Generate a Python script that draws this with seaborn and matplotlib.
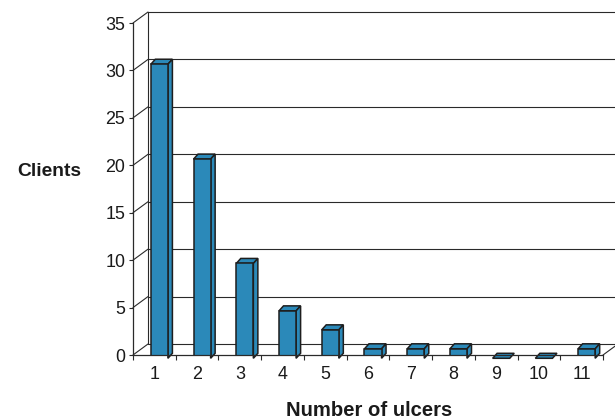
import matplotlib
matplotlib.use("Agg")
import matplotlib.pyplot as plt
import matplotlib.transforms as mtransforms
from matplotlib.patches import Polygon
from matplotlib.lines import Line2D
import seaborn as sns
import pandas as pd

# Data
ulcers = ["1", "2", "3", "4", "5", "6", "7", "8", "9", "10", "11"]
clients = [31, 21, 10, 5, 3, 1, 1, 1, 0, 0, 1]
y_ticks = [0, 5, 10, 15, 20, 25, 30, 35]

BAR = "#2b89b9"
EDGE = "#1e1e1e"
LINE = "#2a2a2a"

sns.set_theme(style="white")
plt.rcParams["font.family"] = ["Liberation Sans", "DejaVu Sans"]

W, H = 615, 420
fig = plt.figure(figsize=(W / 100, H / 100), dpi=100)
ax = fig.add_axes([133 / W, 65 / H, 470 / W, 332 / H])

df = pd.DataFrame({"ulcers": ulcers, "clients": clients})
sns.barplot(data=df, x="ulcers", y="clients", ax=ax, color=BAR, width=0.4,
            saturation=1, edgecolor=EDGE, linewidth=1.1, zorder=4)

ax.set_xlim(-0.5, len(ulcers) - 0.5)
ax.set_ylim(0, 35)
ax.set_xlabel("")
ax.set_ylabel("")

# depth of the floor / back wall and of the bars, in pixels
WALL_DX, WALL_DY = 15, 11
BAR_FX, BAR_FY = 5, -3.3      # bar front face offset from the front plane
BAR_DX, BAR_DY = 4.5, 5       # bar depth

wall = mtransforms.offset_copy(ax.transData, fig, x=WALL_DX, y=WALL_DY, units="dots")
xmin, xmax = ax.get_xlim()

# back wall: gridlines, left edge
for v in y_ticks:
    ax.add_line(Line2D([xmin, xmax + 1], [v, v], transform=wall, color=LINE,
                       lw=0.8, clip_on=False, zorder=1))
ax.add_line(Line2D([xmin, xmin], [0, 35], transform=wall, color=LINE,
                   lw=0.8, clip_on=False, zorder=1))

# diagonal connectors from the front axis to the back wall
to_disp = ax.transData.transform
identity = mtransforms.IdentityTransform()
for v in y_ticks:
    x0, y0 = to_disp((xmin, v))
    ax.add_line(Line2D([x0, x0 + WALL_DX], [y0, y0 + WALL_DY], transform=identity,
                       color=LINE, lw=0.8, clip_on=False, zorder=1))
x0, y0 = to_disp((xmax, 0))
ax.add_line(Line2D([x0, x0 + WALL_DX], [y0, y0 + WALL_DY], transform=identity,
                   color=LINE, lw=0.8, clip_on=False, zorder=1))

# 3D bars: shift front faces and add top / side faces
bar_front = mtransforms.offset_copy(ax.transData, fig, x=BAR_FX, y=BAR_FY, units="dots")
for i, patch in enumerate(ax.patches[:len(clients)]):
    bx, bw, bh = patch.get_x(), patch.get_width(), patch.get_height()
    patch.set_transform(bar_front)
    (lx, by), (rx, ty) = to_disp([(bx, 0), (bx + bw, bh)])
    lx += BAR_FX; rx += BAR_FX; by += BAR_FY; ty += BAR_FY
    top = [(lx, ty), (rx, ty), (rx + BAR_DX, ty + BAR_DY), (lx + BAR_DX, ty + BAR_DY)]
    side = [(rx, by), (rx + BAR_DX, by + BAR_DY), (rx + BAR_DX, ty + BAR_DY), (rx, ty)]
    z = 3 + i * 0.01
    ax.add_patch(Polygon(top, closed=True, transform=identity, facecolor=BAR,
                         edgecolor=EDGE, lw=1.1, clip_on=False, zorder=z))
    if bh > 0:
        ax.add_patch(Polygon(side, closed=True, transform=identity, facecolor=BAR,
                             edgecolor=EDGE, lw=1.1, clip_on=False, zorder=z))

# front axes
for s in ["top", "right"]:
    ax.spines[s].set_visible(False)
for s in ["left", "bottom"]:
    ax.spines[s].set_color(LINE)
    ax.spines[s].set_linewidth(0.9)
    ax.spines[s].set_zorder(5)

ax.set_yticks(y_ticks)
ax.set_yticklabels([str(v) for v in y_ticks])
ax.tick_params(axis="y", which="major", direction="out", length=3, width=0.8,
               color=LINE, pad=2.5, labelsize=12.9, labelcolor="#1a1a1a", left=True)

ax.set_xticks(range(len(ulcers)))
ax.set_xticklabels(ulcers)
ax.set_xticks([k - 0.5 for k in range(len(ulcers) + 1)], minor=True)
ax.tick_params(axis="x", which="major", length=0, pad=8, labelsize=12.9,
               labelcolor="#1a1a1a")
ax.tick_params(axis="x", which="minor", direction="out", length=3.6, width=0.8,
               color=LINE, bottom=True)

fig.text(48.8 / W, 1 - 171 / H, "Clients", ha="center", va="center",
         fontsize=13.9, fontweight="bold", color="#1a1a1a")
fig.text(369 / W, 1 - 410 / H, "Number of ulcers", ha="center", va="center",
         fontsize=14.6, fontweight="bold", color="#1a1a1a")

fig.savefig("out.png", dpi=100, facecolor="white")
